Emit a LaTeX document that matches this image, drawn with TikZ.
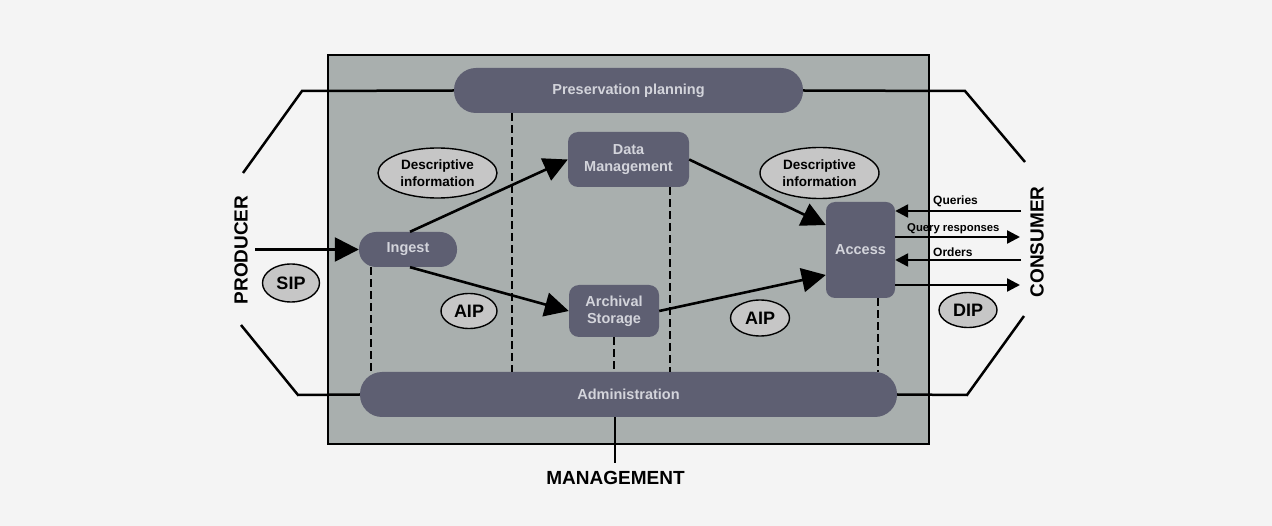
\documentclass[tikz,border=0pt]{standalone}
\usepackage{fontspec}
\setmainfont{Liberation Sans}
\usetikzlibrary{arrows.meta,shapes.geometric}

\definecolor{canvas}{HTML}{F4F4F4}
\definecolor{archive}{HTML}{A9AFAE}
\definecolor{slate}{HTML}{5E5F72}
\definecolor{boxtext}{HTML}{D3D4DB}
\definecolor{bubble}{HTML}{C6C6C6}

\begin{document}
\begin{tikzpicture}[x=1pt,y=-1pt,
  box/.style={fill=slate, text=boxtext, inner sep=0pt, align=center,
    font=\fontsize{14.5}{17}\selectfont\bfseries},
  blob/.style={ellipse, draw=black, line width=1.4pt, fill=bubble,
    inner sep=0pt, align=center},
  flow/.style={line width=2.6pt, -{Triangle[length=24pt,width=24pt]}},
  link/.style={line width=2.4pt, -{Triangle[length=13pt,width=13pt]}},
  tie/.style={line width=2.5pt},
  guide/.style={line width=2.2pt, dash pattern=on 8pt off 4pt},
  actor/.style={font=\fontsize{19}{22}\selectfont\bfseries}]

  % Page and archive frame
  \fill[canvas] (0,0) rectangle (1272,526);
  \useasboundingbox (0,0) rectangle (1272,526);
  \draw[line width=2.5pt, fill=archive] (328,55) rectangle (929,444);

  % Functional entities
  \node[box, minimum width=349pt, minimum height=45pt, rounded corners=22pt]
    (plan) at (628.5,90.5) {Preservation planning};
  \node[box, minimum width=121pt, minimum height=55pt, rounded corners=10pt]
    (dm) at (628.5,159.5) {Data\\Management};
  \node[box, minimum width=98pt, minimum height=35pt, rounded corners=17pt]
    (ingest) at (408,249.5) {Ingest};
  \node[box, minimum width=90pt, minimum height=52pt, rounded corners=10pt]
    (arch) at (614,311) {Archival\\Storage};
  \node[box, minimum width=69pt, minimum height=96pt, rounded corners=9pt]
    (access) at (860.5,250) {Access};
  \node[box, minimum width=537pt, minimum height=45pt, rounded corners=22pt]
    (admin) at (628.5,394.5) {Administration};

  % Information packages
  \node[blob, minimum width=119pt, minimum height=50pt,
    font=\fontsize{13.5}{17}\selectfont\bfseries]
    (descin) at (437.5,173) {Descriptive\\information};
  \node[blob, minimum width=119pt, minimum height=51pt,
    font=\fontsize{13.5}{17}\selectfont\bfseries]
    (descout) at (819.5,173) {Descriptive\\information};
  \node[blob, minimum width=57pt, minimum height=38pt,
    font=\fontsize{18}{20}\selectfont\bfseries] (sip) at (291,283) {SIP};
  \node[blob, minimum width=56pt, minimum height=35pt,
    font=\fontsize{18}{20}\selectfont\bfseries] (aipa) at (469,311) {AIP};
  \node[blob, minimum width=59pt, minimum height=36pt,
    font=\fontsize{18}{20}\selectfont\bfseries] (aipb) at (760,318) {AIP};
  \node[blob, minimum width=58pt, minimum height=35pt,
    font=\fontsize{18}{20}\selectfont\bfseries] (dip) at (968,310) {DIP};

  % Outside actors
  \node[actor, rotate=90] (producer) at (241,250) {PRODUCER};
  \node[actor, rotate=90] (consumer) at (1037,242) {CONSUMER};
  \node[actor] (management) at (615.5,477.5) {MANAGEMENT};

  % Hexagon around the archive
  \coordinate (pl1) at (302,91);
  \coordinate (pl2) at (243,173);
  \coordinate (pl3) at (241,325);
  \coordinate (pl4) at (298,395);
  \coordinate (cr1) at (965,91);
  \coordinate (cr2) at (1025,162);
  \coordinate (cr3) at (1024,316);
  \coordinate (cr4) at (967,395);
  \draw[tie] (plan.west) -- (pl1) -- (pl2);
  \draw[tie] (pl3) -- (pl4) -- (admin.west);
  \draw[tie] (plan.east) -- (cr1) -- (cr2);
  \draw[tie] (cr3) -- (cr4) -- (admin.east);
  \coordinate (mgmt) at (615,463);
  \draw[tie] (mgmt |- admin.south) -- (mgmt);

  % Links to administration
  \draw[guide] ([xshift=12pt]ingest.south west) -- ([xshift=12pt]ingest.south west |- admin.north);
  \draw[guide] ([xshift=58pt]plan.south west) -- ([xshift=58pt]plan.south west |- admin.north);
  \draw[guide] (arch.south) -- (arch.south |- admin.north);
  \draw[guide] ([xshift=-19pt]dm.south east) -- ([xshift=-19pt]dm.south east |- admin.north);
  \draw[guide] ([xshift=-17pt]access.south east) -- ([xshift=-17pt]access.south east |- admin.north);

  % Flows
  \coordinate (prod) at (255,249.5);
  \draw[flow] (prod) -- (ingest.west);
  \draw[flow] ([xshift=2pt]ingest.north) -- (dm.west);
  \draw[flow] ([xshift=2pt]ingest.south) -- (arch.west);
  \draw[flow] (dm.east) -- ([yshift=25pt]access.west);
  \draw[flow] (arch.east) -- ([yshift=-25pt]access.west);

  % Consumer exchange
  \coordinate (cq) at (1021,211);
  \coordinate (cr) at (1020,237);
  \coordinate (co) at (1021,260);
  \coordinate (cd) at (1020,285);
  \draw[link] (cq) -- (cq -| access.east);
  \draw[link] (cr -| access.east) -- (cr);
  \draw[link] (co) -- (co -| access.east);
  \draw[link] (cd -| access.east) -- (cd);
  \node[anchor=west, inner sep=0pt, font=\fontsize{12}{14}\selectfont\bfseries]
    (queries) at (933,201) {Queries};
  \node[anchor=west, inner sep=0pt, font=\fontsize{11.3}{14}\selectfont\bfseries]
    (responses) at (907,229) {Query responses};
  \node[anchor=west, inner sep=0pt, font=\fontsize{12}{14}\selectfont\bfseries]
    (orders) at (933,252) {Orders};
\end{tikzpicture}
\end{document}
